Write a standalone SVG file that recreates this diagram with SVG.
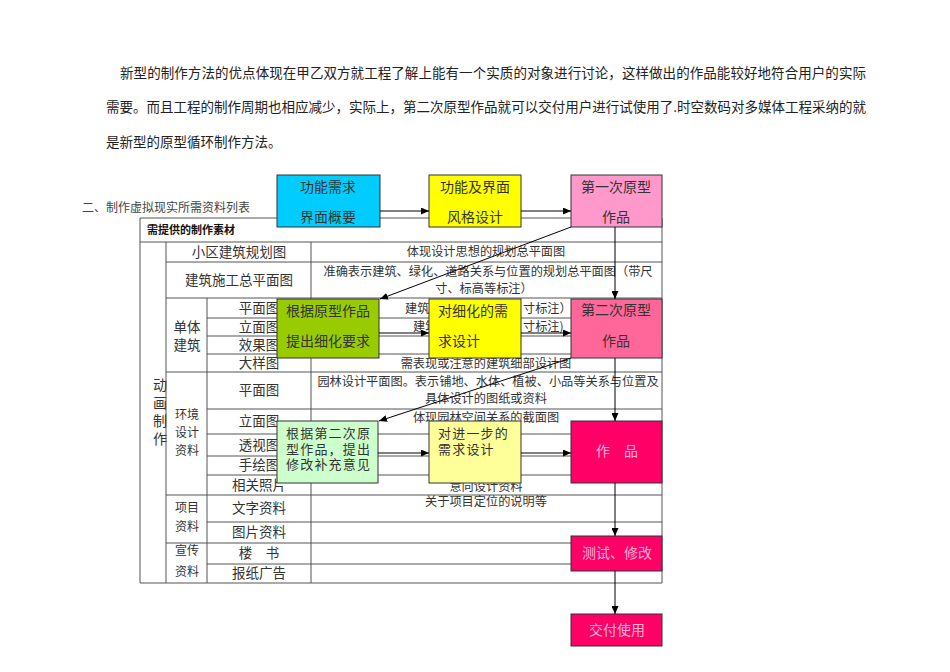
<svg xmlns="http://www.w3.org/2000/svg" width="950" height="672" viewBox="0 0 950 672">
<style>
text{font-family:"Noto Sans CJK SC","Noto Sans",sans-serif;fill:#333;}
.p{font-size:13.5px;fill:#222;}
.t{font-size:13.5px;}
.s{font-size:12px;}
.d{font-size:12.2px;}
.c{text-anchor:middle;}
.b{font-size:14px;}
.m{font-size:13px;letter-spacing:1.2px;}
.lite{fill:#FFB3D9;}
.grid line{stroke:#555;stroke-width:1;}
.box{stroke:#333;stroke-width:1;}
.conn line{stroke:#000;stroke-width:1;fill:none;marker-end:url(#ah);}
</style>
<defs>
<marker id="ah" markerUnits="userSpaceOnUse" markerWidth="8" markerHeight="7" refX="8" refY="3.5" orient="auto">
<path d="M0,0 L8,3.5 L0,7 z" fill="#000"/>
</marker>
</defs>
<rect width="950" height="672" fill="#fff"/>

<g id="paragraph">
<text class="p" x="120" y="78" textLength="746" lengthAdjust="spacing">新型的制作方法的优点体现在甲乙双方就工程了解上能有一个实质的对象进行讨论，这样做出的作品能较好地符合用户的实际</text>
<text class="p" x="106" y="112" textLength="760" lengthAdjust="spacing">需要。而且工程的制作周期也相应减少，实际上，第二次原型作品就可以交付用户进行试使用了.时空数码对多媒体工程采纳的就</text>
<text class="p" x="106" y="147">是新型的原型循环制作方法。</text>
<text class="s" x="82" y="212" style="fill:#444">二、制作虚拟现实所需资料列表</text>
</g>

<g id="table">
<g class="grid">
<line x1="140" y1="218" x2="662" y2="218"/>
<line x1="140" y1="242" x2="662" y2="242"/>
<line x1="166" y1="262" x2="662" y2="262"/>
<line x1="166" y1="298" x2="662" y2="298"/>
<line x1="207" y1="318" x2="662" y2="318"/>
<line x1="207" y1="336" x2="662" y2="336"/>
<line x1="207" y1="354" x2="662" y2="354"/>
<line x1="166" y1="372" x2="662" y2="372"/>
<line x1="207" y1="409" x2="662" y2="409"/>
<line x1="207" y1="434" x2="662" y2="434"/>
<line x1="207" y1="456" x2="662" y2="456"/>
<line x1="207" y1="475" x2="662" y2="475"/>
<line x1="166" y1="495" x2="662" y2="495"/>
<line x1="207" y1="522" x2="662" y2="522"/>
<line x1="166" y1="543" x2="662" y2="543"/>
<line x1="207" y1="564" x2="662" y2="564"/>
<line x1="140" y1="583" x2="662" y2="583"/>
<line x1="140" y1="218" x2="140" y2="583"/>
<line x1="166" y1="242" x2="166" y2="583"/>
<line x1="207" y1="298" x2="207" y2="583"/>
<line x1="311" y1="242" x2="311" y2="583"/>
<line x1="662" y1="218" x2="662" y2="583"/>
</g>
<text x="147" y="234" style="font-size:11px;font-weight:bold;fill:#111">需提供的制作素材</text>
<text class="b" x="153" y="390">动</text>
<text class="b" x="153" y="408">画</text>
<text class="b" x="153" y="426">制</text>
<text class="b" x="153" y="444">作</text>

<text class="t c" x="239" y="257">小区建筑规划图</text>
<text class="t c" x="239" y="285">建筑施工总平面图</text>

<text class="t c" x="187" y="332">单体</text>
<text class="t c" x="187" y="350">建筑</text>
<text class="t c" x="259" y="313">平面图</text>
<text class="t c" x="259" y="332">立面图</text>
<text class="t c" x="259" y="350">效果图</text>
<text class="t c" x="259" y="368">大样图</text>

<text class="s c" x="187" y="419">环境</text>
<text class="s c" x="187" y="437">设计</text>
<text class="s c" x="187" y="455">资料</text>
<text class="t c" x="259" y="395">平面图</text>
<text class="t c" x="259" y="426">立面图</text>
<text class="t c" x="259" y="450">透视图</text>
<text class="t c" x="259" y="470">手绘图</text>
<text class="t c" x="259" y="490">相关照片</text>

<text class="s c" x="187" y="512">项目</text>
<text class="s c" x="187" y="531">资料</text>
<text class="t c" x="259" y="513">文字资料</text>
<text class="t c" x="259" y="537">图片资料</text>

<text class="s c" x="187" y="555">宣传</text>
<text class="s c" x="187" y="576">资料</text>
<text class="t c" x="259" y="558" xml:space="preserve">楼　书</text>
<text class="t c" x="259" y="578">报纸广告</text>

<text class="d c" x="486" y="256">体现设计思想的规划总平面图</text>
<text class="d c" x="488" y="276">准确表示建筑、绿化、道路关系与位置的规划总平面图（带尺</text>
<text class="d c" x="484" y="293">寸、标高等标注）</text>
<text class="d" x="405" y="313">建筑</text>
<text class="d" x="523" y="313">寸标注）</text>
<text class="d" x="413" y="331">建筑</text>
<text class="d" x="523" y="331">寸标注)</text>
<text class="d c" x="486" y="368">需表现或注意的建筑细部设计图</text>
<text class="d c" x="488" y="386">园林设计平面图。表示铺地、水体、植被、小品等关系与位置及</text>
<text class="d c" x="486" y="403">具体设计的图纸或资料</text>
<text class="d c" x="486" y="422">体现园林空间关系的截面图</text>
<text class="d c" x="486" y="491">意向设计资料</text>
<text class="d c" x="486" y="506">关于项目定位的说明等</text>
</g>

<g id="n1">
<rect class="box" x="277" y="175" width="103" height="52" fill="#00CCFF"/>
<text class="b c" x="328" y="192">功能需求</text>
<text class="b c" x="328" y="222">界面概要</text>
</g>
<g id="n2">
<rect class="box" x="429" y="175" width="92" height="52" fill="#FFFF00"/>
<text class="b c" x="475" y="192">功能及界面</text>
<text class="b c" x="475" y="222">风格设计</text>
</g>
<g id="n3">
<rect class="box" x="571" y="175" width="91" height="52" fill="#FF99CC"/>
<text class="b c" x="616" y="192">第一次原型</text>
<text class="b c" x="616" y="222">作品</text>
</g>
<g id="n4">
<rect class="box" x="277" y="299" width="102" height="59" fill="#99CC00"/>
<text class="b" x="286" y="316">根据原型作品</text>
<text class="b" x="286" y="346">提出细化要求</text>
</g>
<g id="n5">
<rect class="box" x="429" y="299" width="92" height="59" fill="#FFFF00"/>
<text class="b" x="438" y="316">对细化的需</text>
<text class="b" x="438" y="346">求设计</text>
</g>
<g id="n6">
<rect class="box" x="571" y="299" width="91" height="59" fill="#FF6699"/>
<text class="b c" x="616" y="315">第二次原型</text>
<text class="b c" x="616" y="346">作品</text>
</g>
<g id="n7">
<rect class="box" x="277" y="421" width="101" height="62" fill="#CCFFCC"/>
<text class="m" x="286" y="438">根据第二次原</text>
<text class="m" x="286" y="453.5">型作品，提出</text>
<text class="m" x="286" y="469">修改补充意见</text>
</g>
<g id="n8">
<rect class="box" x="429" y="421" width="92" height="62" fill="#FFFF99"/>
<text class="m" x="438" y="438">对进一步的</text>
<text class="m" x="438" y="453.5">需求设计</text>
</g>
<g id="n9">
<rect class="box" x="571" y="421" width="91" height="62" fill="#FF0066"/>
<text class="b c lite" x="617" y="456" xml:space="preserve">作　品</text>
</g>
<g id="n10">
<rect class="box" x="571" y="536" width="91" height="35" fill="#FF0066"/>
<text class="b c lite" x="617" y="558">测试、修改</text>
</g>
<g id="n11">
<rect class="box" x="571" y="614" width="91" height="32" fill="#FF0066"/>
<text class="b c lite" x="617" y="635">交付使用</text>
</g>

<g id="connectors" class="conn">
<line x1="380" y1="211" x2="429" y2="211"/>
<line x1="521" y1="211" x2="571" y2="211"/>
<line x1="615" y1="227" x2="615" y2="299"/>
<line x1="571" y1="227" x2="380" y2="299"/>
<line x1="379" y1="333" x2="429" y2="333"/>
<line x1="521" y1="333" x2="571" y2="333"/>
<line x1="615" y1="358" x2="615" y2="421"/>
<line x1="571" y1="358" x2="379" y2="421"/>
<line x1="378" y1="453" x2="429" y2="453"/>
<line x1="521" y1="453" x2="571" y2="453"/>
<line x1="615" y1="483" x2="615" y2="536"/>
<line x1="615" y1="571" x2="615" y2="614"/>
</g>
</svg>
